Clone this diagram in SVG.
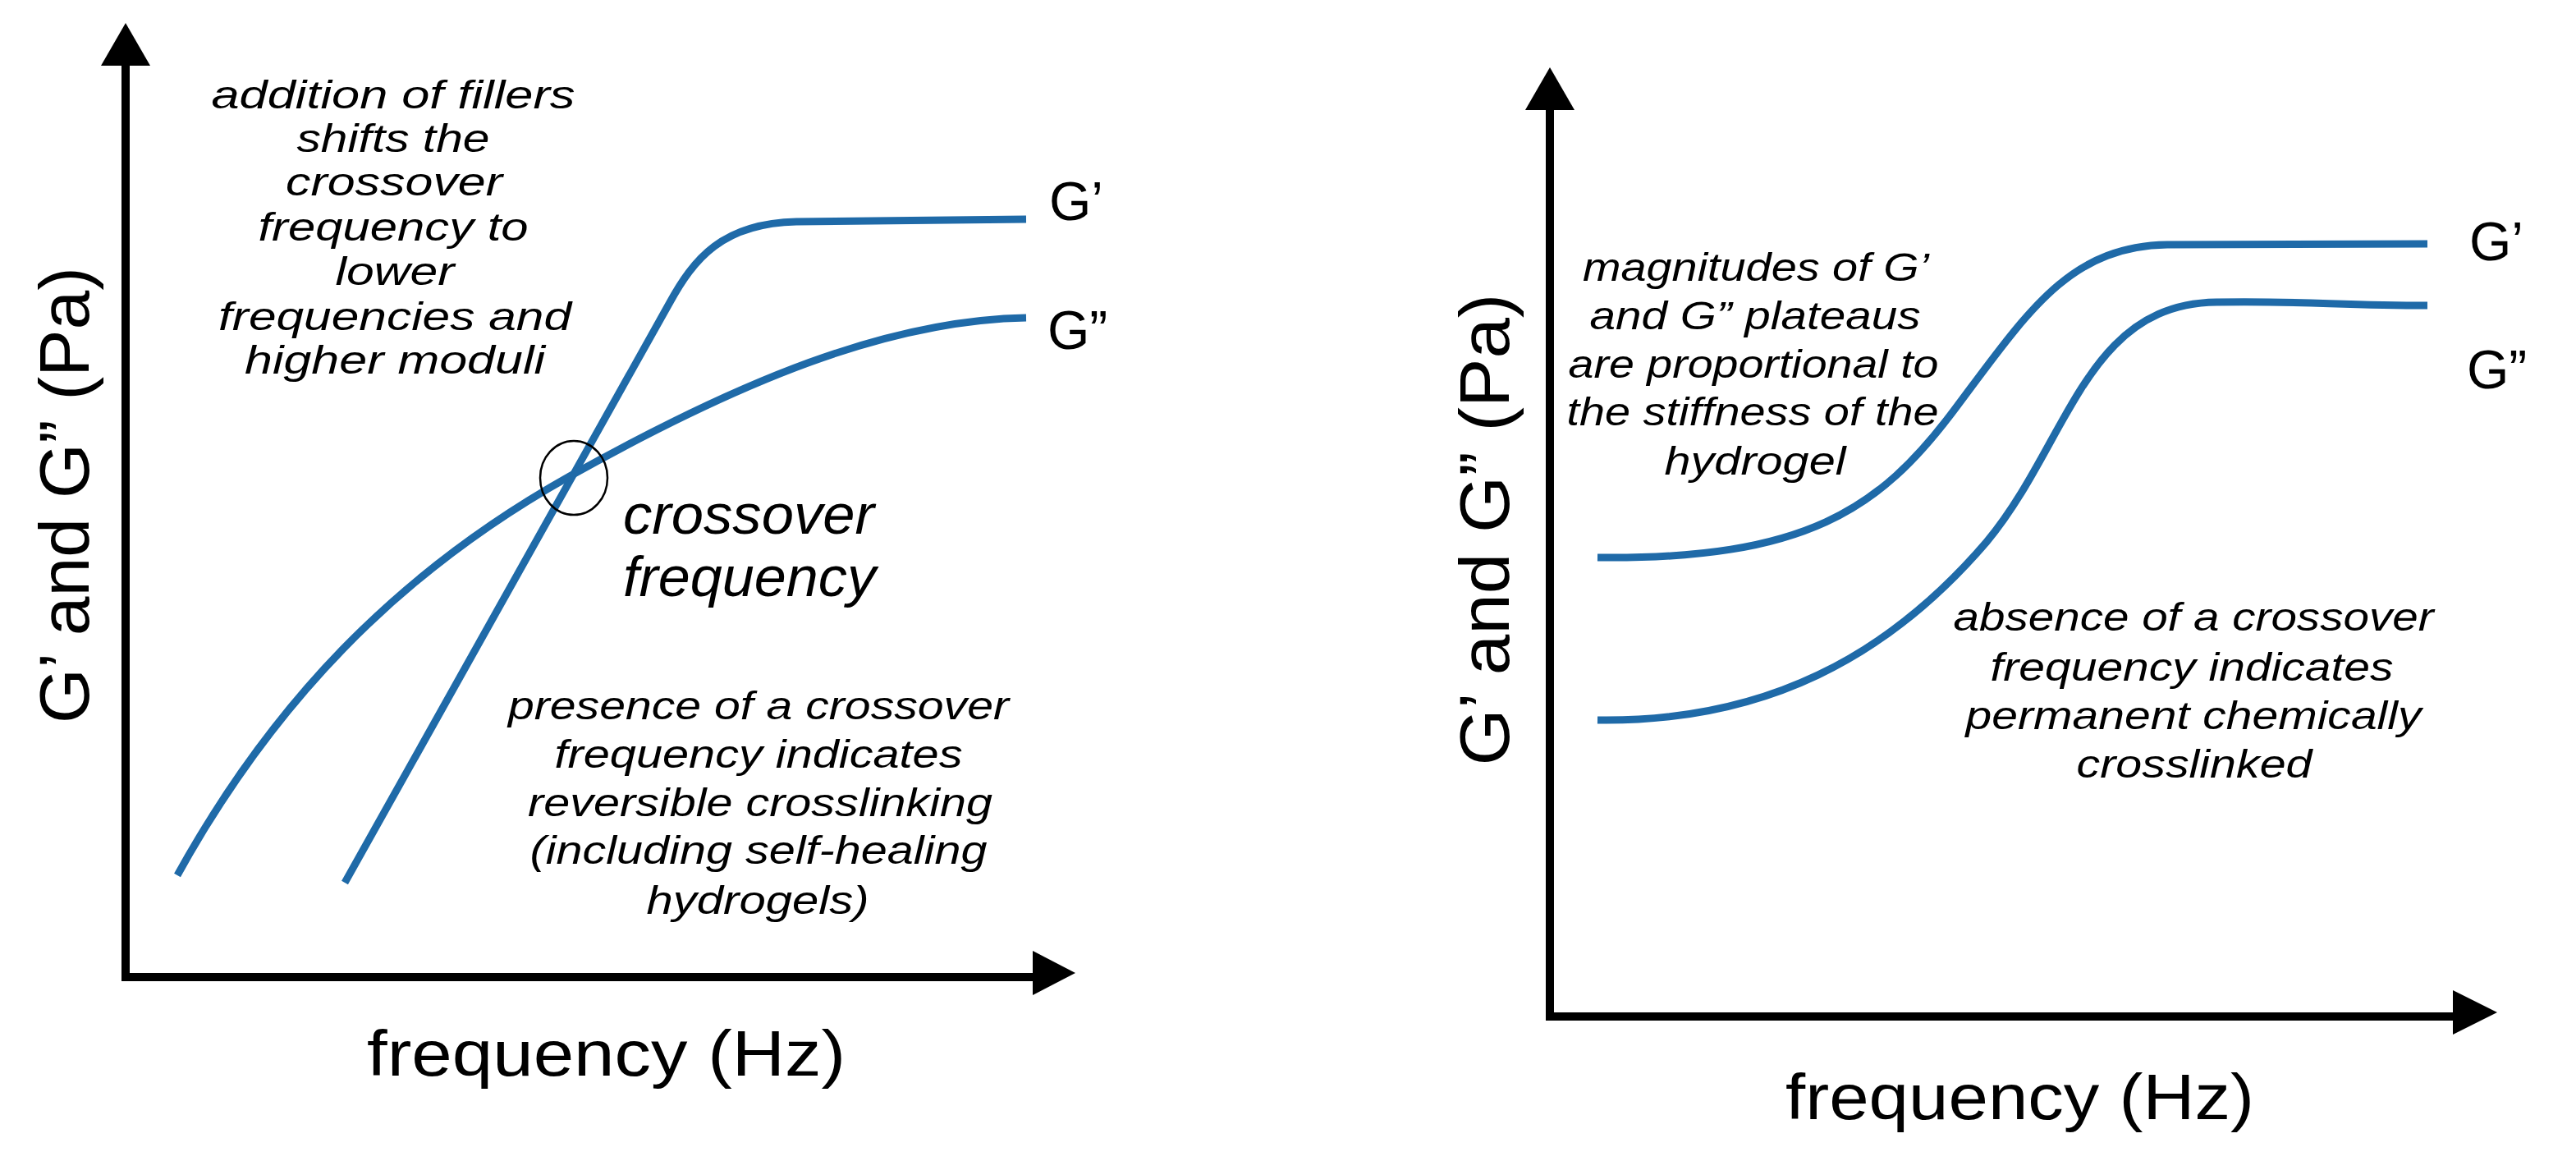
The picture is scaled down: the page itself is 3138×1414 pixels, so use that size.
<svg xmlns="http://www.w3.org/2000/svg" width="3138" height="1414" viewBox="0 0 3138 1414">
<style>
.ax{stroke:#000;stroke-width:10;fill:none}
.hd{fill:#000}
.cv{stroke:#1f6aa8;stroke-width:9;fill:none;stroke-linecap:butt}
.t{font-family:"Liberation Sans",Arial,sans-serif;fill:#000}
.it{font-style:italic;font-size:48px}
.lbl{font-size:86px}
.g{font-size:66px}
</style>
<rect width="3138" height="1414" fill="#fff"/>
<g id="left-axes">
<path class="ax" d="M153,78 V1190 H1260"/>
<polygon class="hd" points="153,28 123,80 183,80"/>
<polygon class="hd" points="1310,1185 1258,1158 1258,1212"/>
</g>
<g id="right-axes">
<path class="ax" d="M1888,132 V1238 H2990"/>
<polygon class="hd" points="1888,82 1858,134 1918,134"/>
<polygon class="hd" points="3042,1233 2988,1206 2988,1260"/>
</g>
<g id="connectors">
<path class="cv" d="M420,1075 L815,370 C845,315 880,272 970,270 L1250,267"/>
<path class="cv" d="M216,1066 C330,860 480,700 694,580 C900,465 1080,390 1250,387"/>
<path class="cv" d="M1946,679 C2200,682 2290,620 2380,500 C2470,380 2520,300 2640,298 L2957,297"/>
<path class="cv" d="M1946,877 C2150,880 2300,800 2420,660 C2520,540 2540,370 2700,368 C2800,366 2850,372 2957,372"/>
<ellipse cx="699" cy="582" rx="41" ry="45" fill="none" stroke="#000" stroke-width="2.5"/>
</g>
<g id="left-labels" class="t">
<text class="lbl" transform="translate(108,603) rotate(-90)" text-anchor="middle" textLength="556" lengthAdjust="spacingAndGlyphs">G’ and G” (Pa)</text>
<text x="447" y="1310" font-size="78" textLength="583" lengthAdjust="spacingAndGlyphs">frequency  (Hz)</text>
<text class="g" x="1278" y="268">G’</text>
<text class="g" x="1276" y="425">G”</text>
</g>
<g id="left-top-note" class="t it" text-anchor="middle">
<text x="479" y="132" textLength="443" lengthAdjust="spacingAndGlyphs">addition of fillers</text>
<text x="479" y="185" textLength="235" lengthAdjust="spacingAndGlyphs">shifts the</text>
<text x="480" y="238" textLength="264" lengthAdjust="spacingAndGlyphs">crossover</text>
<text x="479" y="293" textLength="329" lengthAdjust="spacingAndGlyphs">frequency to</text>
<text x="481" y="347" textLength="145" lengthAdjust="spacingAndGlyphs">lower</text>
<text x="481" y="402" textLength="430" lengthAdjust="spacingAndGlyphs">frequencies and</text>
<text x="481" y="455" textLength="366" lengthAdjust="spacingAndGlyphs">higher moduli</text>
</g>
<g id="crossover-label" class="t" font-style="italic" font-size="68">
<text x="759" y="650" textLength="306" lengthAdjust="spacingAndGlyphs">crossover</text>
<text x="759" y="726" textLength="308" lengthAdjust="spacingAndGlyphs">frequency</text>
</g>
<g id="left-bottom-note" class="t it" text-anchor="middle">
<text x="924" y="876" textLength="610" lengthAdjust="spacingAndGlyphs">presence of a crossover</text>
<text x="924" y="935" textLength="497" lengthAdjust="spacingAndGlyphs">frequency indicates</text>
<text x="926" y="994" textLength="566" lengthAdjust="spacingAndGlyphs">reversible crosslinking</text>
<text x="924" y="1052" textLength="557" lengthAdjust="spacingAndGlyphs">(including self-healing</text>
<text x="923" y="1113" textLength="271" lengthAdjust="spacingAndGlyphs">hydrogels)</text>
</g>
<g id="right-labels" class="t">
<text class="lbl" transform="translate(1838,645) rotate(-90)" text-anchor="middle" textLength="575" lengthAdjust="spacingAndGlyphs">G’ and G” (Pa)</text>
<text x="2175" y="1363" font-size="78" textLength="571" lengthAdjust="spacingAndGlyphs">frequency  (Hz)</text>
<text class="g" x="3008" y="317">G’</text>
<text class="g" x="3005" y="473">G”</text>
</g>
<g id="right-top-note" class="t it" text-anchor="middle">
<text x="2139" y="342" textLength="422" lengthAdjust="spacingAndGlyphs">magnitudes of G’</text>
<text x="2138" y="401" textLength="403" lengthAdjust="spacingAndGlyphs">and G” plateaus</text>
<text x="2136" y="460" textLength="451" lengthAdjust="spacingAndGlyphs">are proportional to</text>
<text x="2135" y="518" textLength="453" lengthAdjust="spacingAndGlyphs">the stiffness of the</text>
<text x="2138" y="578" textLength="221" lengthAdjust="spacingAndGlyphs">hydrogel</text>
</g>
<g id="right-bottom-note" class="t it" text-anchor="middle">
<text x="2672" y="768" textLength="585" lengthAdjust="spacingAndGlyphs">absence of a crossover</text>
<text x="2670" y="829" textLength="491" lengthAdjust="spacingAndGlyphs">frequency indicates</text>
<text x="2672" y="888" textLength="555" lengthAdjust="spacingAndGlyphs">permanent chemically</text>
<text x="2673" y="947" textLength="287" lengthAdjust="spacingAndGlyphs">crosslinked</text>
</g>
</svg>
